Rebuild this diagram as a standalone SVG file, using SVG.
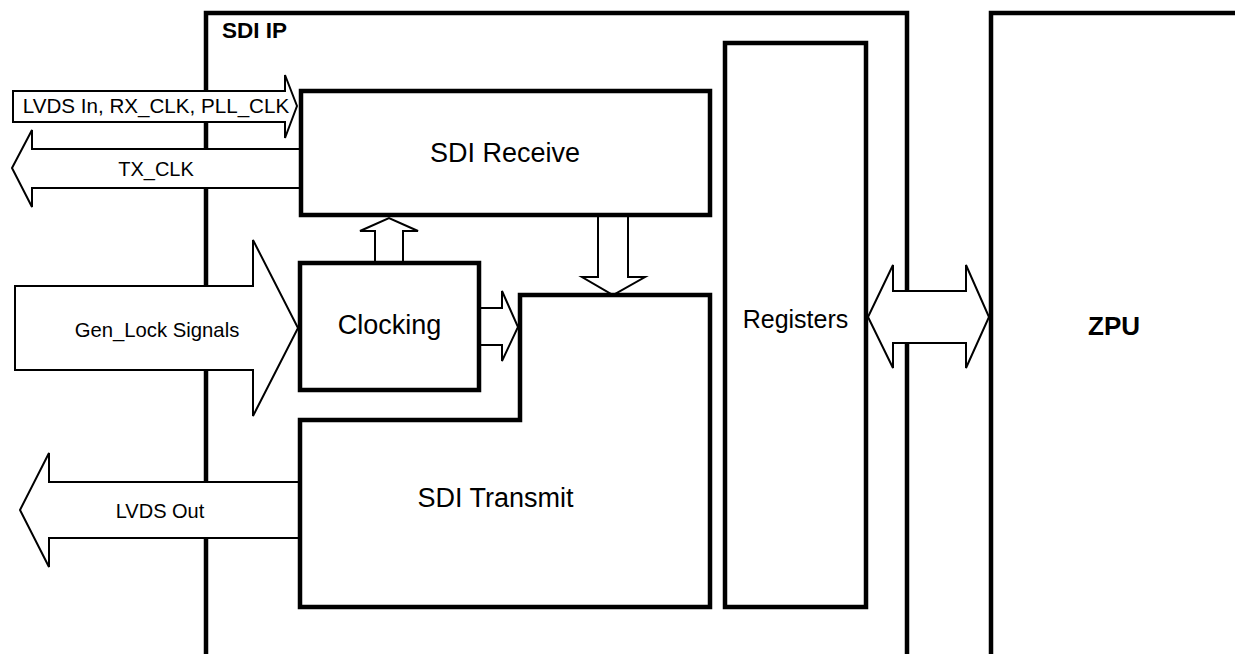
<svg xmlns="http://www.w3.org/2000/svg" width="1235" height="654" viewBox="0 0 1235 654">
<style>
.box{fill:#fff;stroke:#000;stroke-width:4.5;stroke-linejoin:miter}
.frame{fill:none;stroke:#000;stroke-width:4.5}
.arr{fill:#fff;stroke:#000;stroke-width:2;stroke-linejoin:miter}
.t{font-family:"Liberation Sans",Arial,sans-serif;fill:#000;text-anchor:middle}
.b{font-weight:bold}
</style>
<rect width="1235" height="654" fill="#fff"/>
<g id="sdi-ip">
<path class="frame" d="M206,660 V13 H907 V660"/>
<text class="t b" x="222" y="38" font-size="22.5" style="text-anchor:start">SDI IP</text>
</g>
<g id="zpu">
<path class="frame" d="M991,660 V13 H1240 V660"/>
<text class="t b" x="1114" y="335" font-size="26">ZPU</text>
</g>
<g id="connectors">
<path class="arr" d="M13,91 H285 V75 L297,106 L285,138 V122 H13 Z"/>
<text class="t" x="156" y="113" font-size="20.6">LVDS In, RX_CLK, PLL_CLK</text>
<path class="arr" d="M301,149 H32 V130 L12,168 L32,207 V188 H301 Z"/>
<text class="t" x="156" y="176" font-size="20">TX_CLK</text>
<path class="arr" d="M15,286 H253 V240 L298,328 L253,416 V370 H15 Z"/>
<text class="t" x="157" y="337" font-size="20.3">Gen_Lock Signals</text>
<path class="arr" d="M300,482 H49 V453 L20,510 L49,567 V538 H300 Z"/>
<text class="t" x="160" y="518" font-size="20">LVDS Out</text>
<path class="arr" d="M375,263 V231 H360 L389,218 L418,231 H403 V263 Z"/>
<path class="arr" d="M598,215 V277 H582 L613,295 L645,277 H628 V215 Z"/>
<path class="arr" d="M479,308 H502 V291 L518,327 L502,361 V345 H479 Z"/>
<path class="arr" d="M868,317 L893,265 V291 H966 V265 L989,317 L966,368 V343 H893 V368 Z"/>
</g>
<g id="registers">
<rect class="box" x="725" y="43" width="141" height="564"/>
<text class="t" x="795.5" y="328" font-size="25">Registers</text>
</g>
<g id="sdi-receive">
<rect class="box" x="301" y="91" width="409" height="124"/>
<text class="t" x="505" y="162" font-size="27">SDI Receive</text>
</g>
<g id="clocking">
<rect class="box" x="300" y="263" width="179" height="127"/>
<text class="t" x="389.5" y="334" font-size="27">Clocking</text>
</g>
<g id="sdi-transmit">
<polygon class="box" points="520,295 710,295 710,607 300,607 300,420 520,420"/>
<text class="t" x="495.5" y="507" font-size="27">SDI Transmit</text>
</g>
</svg>
